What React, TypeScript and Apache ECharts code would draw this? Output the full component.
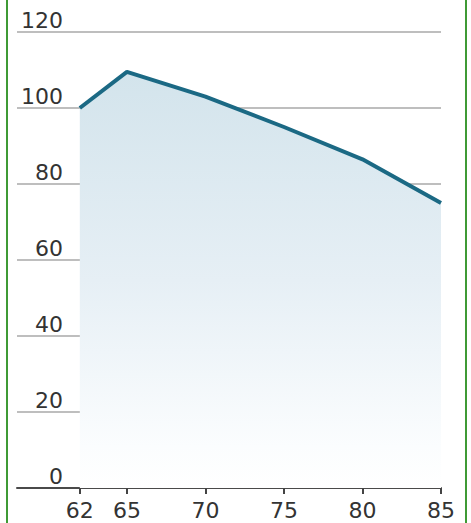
import React, { useEffect, useRef } from "react";
import * as echarts from "echarts";

const ages = [62, 65, 70, 75, 80, 85];
const values = [100, 109.5, 103, 95, 86.5, 75];
const yTicks = [0, 20, 40, 60, 80, 100, 120];

export default function App() {
  const ref = useRef<HTMLDivElement>(null);
  useEffect(() => {
    if (!ref.current) return;
    const chart = echarts.init(ref.current, null, { renderer: "svg" });
    const font = "DejaVu Sans";
    chart.setOption({
      animation: false,
      grid: { left: 17, right: 30, top: 32, bottom: 35, containLabel: false },
      xAxis: {
        type: "value",
        min: 58,
        max: 85,
        axisLine: { show: true, lineStyle: { color: "#4a4a4a", width: 2 } },
        axisTick: { show: true, customValues: ages, length: 6, lineStyle: { color: "#444", width: 2 } },
        axisLabel: {
          customValues: ages,
          color: "#333",
          fontFamily: font,
          fontSize: 22,
          margin: 11,
        },
        splitLine: { show: false },
      },
      yAxis: {
        type: "value",
        min: 0,
        max: 120,
        interval: 20,
        axisLine: { show: false },
        axisTick: { show: false },
        axisLabel: {
          inside: true,
          align: "right",
          margin: 46,
          verticalAlign: "bottom",
          padding: [0, 0, 1, 0],
          color: "#333",
          fontFamily: font,
          fontSize: 22,
          formatter: (v: number) => (yTicks.includes(v) ? String(v) : ""),
        },
        splitLine: { show: true, lineStyle: { color: "#a8a8a8", width: 1.5 } },
      },
      series: [
        {
          type: "line",
          data: ages.map((a, i) => [a, values[i]]),
          symbol: "none",
          lineStyle: { color: "#1b6984", width: 4 },
          itemStyle: { color: "#1b6984" },
          areaStyle: {
            color: new echarts.graphic.LinearGradient(0, 0, 0, 1, [
              { offset: 0, color: "#d3e4ec" },
              { offset: 0.5, color: "#e6eff5" },
              { offset: 0.9, color: "#fbfdfe" },
              { offset: 1, color: "#ffffff" },
            ]),
            opacity: 1,
          },
          z: 3,
        },
      ],
      graphic: [
        { type: "rect", shape: { x: 6, y: 0, width: 2, height: 523 }, style: { fill: "#3f9a35" } },
        { type: "rect", shape: { x: 465, y: 0, width: 2, height: 523 }, style: { fill: "#3f9a35" } },
      ],
    });
    return () => chart.dispose();
  }, []);
  return (
    <div
      ref={ref}
      style={{ position: "fixed", left: 0, top: 0, width: 471, height: 523, background: "#fff" }}
    />
  );
}
